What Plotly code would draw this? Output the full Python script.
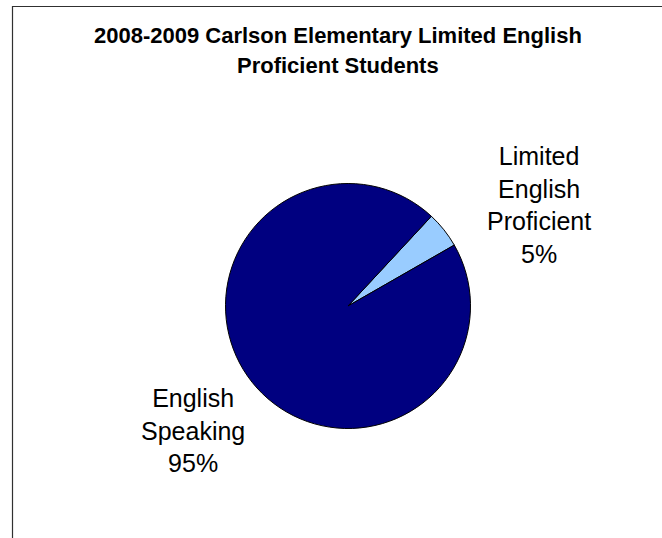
import plotly.graph_objects as go

# Data
labels = ["Limited English Proficient", "English Speaking"]
label_lines = [["Limited", "English", "Proficient"], ["English", "Speaking"]]
values = [4.8, 95.2]
colors = ["#99CCFF", "#000080"]
title_lines = ["2008-2009 Carlson Elementary Limited English", "Proficient Students"]

W, H = 662, 538
cx, cy, r = 348, 306, 122.5

def px(x):
    return x / W

def py(y):
    return 1 - y / H

fig = go.Figure(go.Pie(
    labels=labels,
    values=values,
    sort=False,
    direction="clockwise",
    rotation=42.9,
    marker=dict(colors=colors, line=dict(color="#000000", width=1)),
    textinfo="none",
    hoverinfo="label+percent",
    showlegend=False,
    domain=dict(x=[px(cx - r), px(cx + r)], y=[py(cy + r), py(cy - r)]),
))

total = sum(values)
pcts = [round(v / total * 100) for v in values]
label_pos = [(539, 205), (193, 430)]
annotations = []
for lines, p, (x, y) in zip(label_lines, pcts, label_pos):
    annotations.append(dict(
        text="<br>".join(lines + [f"{p}%"]),
        x=px(x), y=py(y), xref="paper", yref="paper",
        xanchor="center", yanchor="middle", showarrow=False, align="center",
        font=dict(family="Liberation Sans, Arial, sans-serif", size=25, color="#000000"),
    ))

title_y = [35, 65]
for t, y in zip(title_lines, title_y):
    annotations.append(dict(
        text=f"<b>{t}</b>",
        x=px(338), y=py(y), xref="paper", yref="paper",
        xanchor="center", yanchor="middle", showarrow=False,
        font=dict(family="Liberation Sans, Arial, sans-serif", size=22, color="#000000"),
    ))

fig.update_layout(
    width=W, height=H,
    margin=dict(l=0, r=0, t=0, b=0),
    paper_bgcolor="#FFFFFF",
    plot_bgcolor="#FFFFFF",
    annotations=annotations,
    shapes=[dict(
        type="rect", xref="paper", yref="paper",
        x0=px(12.5), x1=px(W + 10), y0=py(H + 10), y1=py(6.5),
        line=dict(color="#303030", width=1.2), fillcolor="rgba(0,0,0,0)",
        layer="below",
    )],
)

fig.write_html(
    "out.html",
    config={"displayModeBar": False},
    post_script="document.body.style.margin='0';document.body.style.overflow='hidden';",
)
